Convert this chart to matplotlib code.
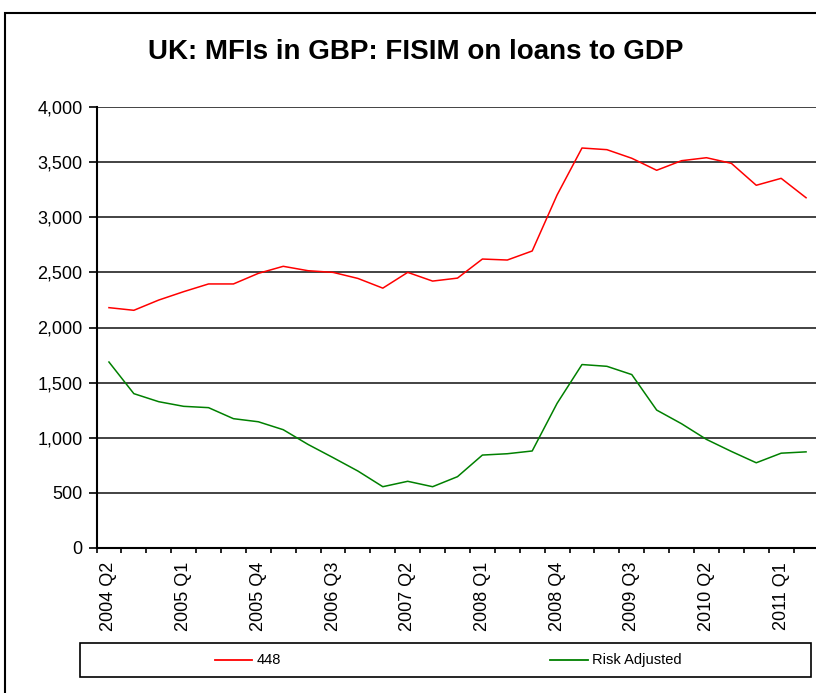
import matplotlib
matplotlib.use("Agg")
import matplotlib.pyplot as plt
from matplotlib.lines import Line2D
from matplotlib.patches import Rectangle

plt.rcParams['font.family'] = ['Liberation Sans', 'DejaVu Sans']

quarters = ["2004 Q2", "2004 Q3", "2004 Q4", "2005 Q1", "2005 Q2", "2005 Q3", "2005 Q4",
            "2006 Q1", "2006 Q2", "2006 Q3", "2006 Q4", "2007 Q1", "2007 Q2", "2007 Q3",
            "2007 Q4", "2008 Q1", "2008 Q2", "2008 Q3", "2008 Q4", "2009 Q1", "2009 Q2",
            "2009 Q3", "2009 Q4", "2010 Q1", "2010 Q2", "2010 Q3", "2010 Q4", "2011 Q1",
            "2011 Q2"]

series_448 = [2180, 2156, 2249, 2325, 2395, 2395, 2491, 2555, 2515, 2500, 2445, 2357,
              2500, 2421, 2448, 2621, 2612, 2694, 3202, 3628, 3613, 3535, 3426, 3513,
              3540, 3489, 3290, 3353, 3177]

risk_adjusted = [1687, 1400, 1327, 1285, 1273, 1173, 1145, 1073, 939, 820, 698, 556,
                 605, 556, 647, 843, 855, 880, 1312, 1664, 1648, 1573, 1251, 1127,
                 985, 876, 773, 860, 872]

label_every = 3

W, H = 816, 693
fig = plt.figure(figsize=(W / 100, H / 100), dpi=100)

# outer chart border (extends beyond the cropped image on right/bottom)
fig.patches.append(Rectangle((5 / W, -0.05), 1.2, 1 - 13 / H + 0.05, transform=fig.transFigure,
                             fill=False, edgecolor='black', linewidth=1.5))

left, right, top, bottom = 96.5, 818.5, 107, 548
ax = fig.add_axes([left / W, 1 - bottom / H, (right - left) / W, (bottom - top) / H])

x = list(range(len(quarters)))
ax.plot(x, series_448, color='#FF0000', linewidth=1.1, label='448')
ax.plot(x, risk_adjusted, color='#008000', linewidth=1.1, label='Risk Adjusted')

ax.set_xlim(-0.5, len(quarters) - 0.5)
ax.set_ylim(0, 4000)
ax.set_yticks(range(0, 4001, 500))
ax.set_yticklabels([f"{v:,}" for v in range(0, 4001, 500)], fontsize=13)
ax.yaxis.grid(True, color='#222222', linewidth=1.2)
ax.set_axisbelow(True)

ax.set_xticks(x[::label_every])
ax.set_xticklabels(quarters[::label_every], rotation=90, fontsize=13)
ax.set_xticks([i - 0.5 for i in range(len(quarters) + 1)], minor=True)
ax.tick_params(axis='x', which='major', length=0, pad=10)
ax.tick_params(axis='x', which='minor', length=3.8, width=1.2, direction='out')
ax.tick_params(axis='y', which='major', length=5.5, width=1.2, direction='out', pad=4.5)

for s in ['top', 'right']:
    ax.spines[s].set_visible(False)
for s in ['left', 'bottom']:
    ax.spines[s].set_linewidth(1.5)
    ax.spines[s].set_color('black')

fig.text(416 / W, 1 - 52 / H, "UK: MFIs in GBP: FISIM on loans to GDP",
         ha='center', va='center', fontsize=20, fontweight='bold')

# legend box
lx0, lx1, ly0, ly1 = 80, 811, 643, 677
fig.patches.append(Rectangle((lx0 / W, 1 - ly1 / H), (lx1 - lx0) / W, (ly1 - ly0) / H,
                             transform=fig.transFigure, fill=False, edgecolor='black', linewidth=1.2))
ymid = 1 - 660 / H
fig.lines.append(Line2D([215 / W, 252 / W], [ymid, ymid], transform=fig.transFigure,
                        color='#FF0000', linewidth=1.3))
fig.text(257 / W, ymid, "448", ha='left', va='center', fontsize=10.5)
fig.lines.append(Line2D([550 / W, 588 / W], [ymid, ymid], transform=fig.transFigure,
                        color='#008000', linewidth=1.3))
fig.text(592 / W, ymid, "Risk Adjusted", ha='left', va='center', fontsize=10.5)

fig.savefig("out.png", dpi=100)
